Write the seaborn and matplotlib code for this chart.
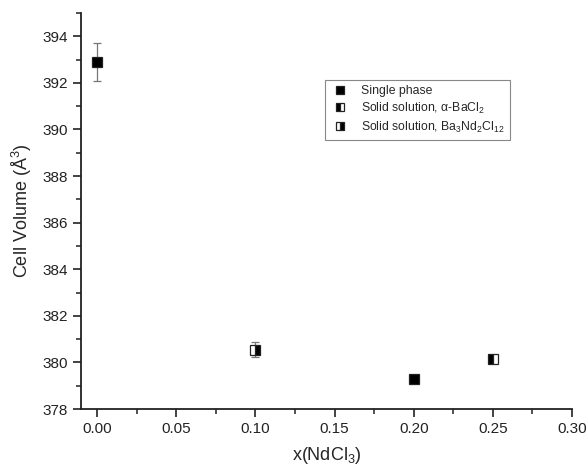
import matplotlib
matplotlib.use("Agg")
import matplotlib.pyplot as plt
import seaborn as sns
import pandas as pd
from matplotlib.ticker import MultipleLocator, AutoMinorLocator, FormatStrFormatter

# Data
single_x = [0.00, 0.20]
single_v = [392.9, 379.29]
single_err = [0.8, 0.0]

alpha_x = [0.25]
alpha_v = [380.13]
alpha_err = [0.0]

ba3_x = [0.10]
ba3_v = [380.55]
ba3_err = [0.32]

labels = ["Single phase",
          "Solid solution, α-BaCl$_2$",
          "Solid solution, Ba$_3$Nd$_2$Cl$_{12}$"]

sns.set_style("ticks")
plt.rcParams['font.family'] = ['Liberation Sans', 'DejaVu Sans']
plt.rcParams['mathtext.fontset'] = 'custom'
plt.rcParams['mathtext.rm'] = 'Liberation Sans'
plt.rcParams['mathtext.it'] = 'Liberation Sans:italic'

fig = plt.figure(figsize=(5.88, 4.71), dpi=100)
ax = fig.add_axes([0.1378, 0.1316, 0.8350, 0.8408])

series = [
    (single_x, single_v, single_err, 'full', labels[0]),
    (alpha_x, alpha_v, alpha_err, 'left', labels[1]),
    (ba3_x, ba3_v, ba3_err, 'right', labels[2]),
]

for xs, vs, es, fs, lab in series:
    ax.errorbar(xs, vs, yerr=es, fmt='none', ecolor='#777777',
                elinewidth=0.9, capsize=3, capthick=0.9, zorder=2)
    df = pd.DataFrame({"x": xs, "v": vs})
    sns.lineplot(data=df, x="x", y="v", ax=ax, marker='s', linestyle='',
                 markersize=6.5, color='black', markerfacecolor='black',
                 markerfacecoloralt='white', markeredgecolor='#222222',
                 markeredgewidth=0.9, fillstyle=fs, label=lab, zorder=3,
                 estimator=None)

ax.set_xlim(-0.0102, 0.30)
ax.set_ylim(378, 395)
ax.xaxis.set_major_locator(MultipleLocator(0.05))
ax.xaxis.set_minor_locator(AutoMinorLocator(2))
ax.yaxis.set_major_locator(MultipleLocator(2))
ax.yaxis.set_minor_locator(AutoMinorLocator(2))
ax.xaxis.set_major_formatter(FormatStrFormatter('%.2f'))

for s in ['top', 'right']:
    ax.spines[s].set_visible(False)
for s in ['left', 'bottom']:
    ax.spines[s].set_linewidth(1.3)
    ax.spines[s].set_color('#222222')

ax.tick_params(axis='both', which='major', direction='out', length=6,
               width=1.2, labelsize=11, colors='#222222', labelcolor='#222222')
ax.tick_params(axis='both', which='minor', direction='out', length=3.5,
               width=1.1, colors='#222222')

ax.set_xlabel(r"x(NdCl$_3$)", fontsize=13, labelpad=6)
ax.set_ylabel(r"Cell Volume (Å$^3$)", fontsize=13, labelpad=6)

leg = ax.legend(loc='upper left', bbox_to_anchor=(0.497, 0.832),
                fontsize=8.8, frameon=True, fancybox=False, edgecolor='#888888',
                framealpha=1, borderpad=0.45, handlelength=1.6,
                handletextpad=0.9, labelspacing=0.3, borderaxespad=0)
leg.get_frame().set_linewidth(0.8)
for h in leg.legend_handles:
    h.set_markersize(5.5)

fig.savefig("out.png", dpi=100)
